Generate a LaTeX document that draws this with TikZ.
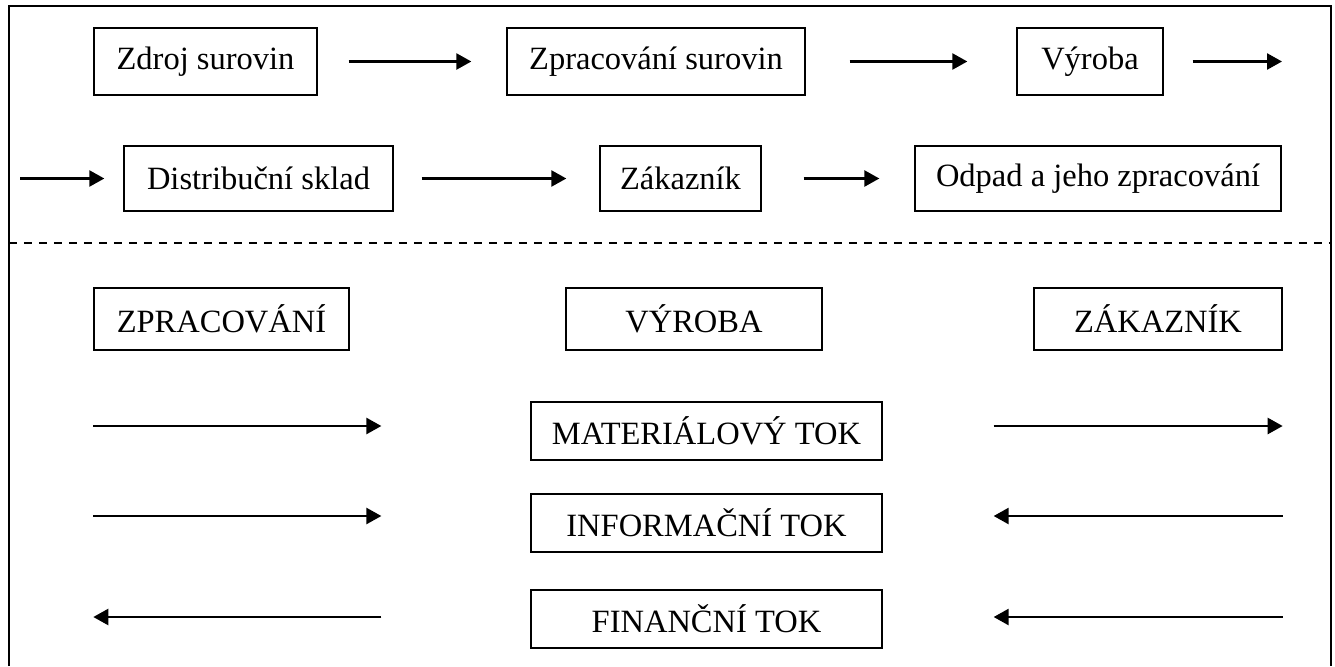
\documentclass[tikz,border=0pt]{standalone}
\usepackage{fontspec}
\setmainfont{Liberation Serif}
\usetikzlibrary{arrows.meta,positioning,calc}

\begin{document}
\begin{tikzpicture}[
  x=0.02cm, y=-0.02cm,
  box/.style = {draw, line width=0.8pt, inner sep=0pt, align=center, font=\fontsize{18.5pt}{22pt}\selectfont},
  chainbox/.style = {box, minimum height=1.34cm},
  chainboxlow/.style = {box, minimum height=1.3cm},
  actor/.style = {box, minimum height=1.24cm},
  flowbox/.style = {box, minimum width=7.02cm, minimum height=1.16cm},
  arrow/.style = {line width=1.4pt, -{Triangle[length=0.3cm, width=0.32cm]}}
  ]

% bounding box and frame
\useasboundingbox (0,0) rectangle (1335,666);
\draw[line width=1.2pt] (9,666) -- (9,6) -- (1331,6) -- (1331,666);

% 1st row: chain
\node[chainbox, minimum width=4.46cm] (zdroj) at (205.5,61.5) {Zdroj surovin};
\node[chainbox, minimum width=5.96cm] (zpracovani) at (656,61.5) {Zpracování surovin};
\node[chainbox, minimum width=2.92cm] (vyroba) at (1090,61.5) {Výroba};
\coordinate (out) at (1282,61);

% 2nd row: chain
\coordinate (in) at (20,181);
\node[chainboxlow, minimum width=5.38cm] (sklad) at (258.5,178.5) {Distribuční sklad};
\node[chainboxlow, minimum width=3.22cm] (zakaznik) at (680.5,178.5) {Zákazník};
\node[chainboxlow, minimum width=7.32cm] (odpad) at (1098,178.5) {Odpad a jeho zpracování};

% Draw arrows
\draw[arrow, shorten <=0.62cm, shorten >=0.7cm] (zdroj) -- (zpracovani);
\draw[arrow, shorten <=0.88cm, shorten >=0.98cm] (zpracovani) -- (vyroba);
\draw[arrow, shorten <=0.58cm] (vyroba.east) -- (vyroba.east -| out);
\draw[arrow, shorten >=0.38cm] (in |- sklad.west) -- (sklad.west);
\draw[arrow, shorten <=0.56cm, shorten >=0.66cm] (sklad) -- (zakaznik);
\draw[arrow, shorten <=0.84cm, shorten >=0.7cm] (zakaznik) -- (odpad);

% separator
\draw[line width=0.6pt, dash pattern=on 0.16cm off 0.14cm] (9,243) -- (1331,243);

% Bottom part: actors
\node[actor, minimum width=5.1cm] (zprac) at (221.5,319) {ZPRACOVÁNÍ};
\node[actor, minimum width=5.12cm] (vyr) at (694,319) {VÝROBA};
\node[actor, minimum width=4.96cm] (zak) at (1158,319) {ZÁKAZNÍK};

% Bottom part: flows
\node[flowbox] (mat) at (706.5,431) {MATERIÁLOVÝ TOK};
\node[flowbox] (inf) at (706.5,523) {INFORMAČNÍ TOK};
\node[flowbox] (fin) at (706.5,619) {FINANČNÍ TOK};

% left arrows
\draw[arrow] ([yshift=0.1cm]zprac.west |- mat.west) -- ([xshift=-2.98cm, yshift=0.1cm]mat.west);
\draw[arrow] ([yshift=0.14cm]zprac.west |- inf.west) -- ([xshift=-2.98cm, yshift=0.14cm]inf.west);
\draw[arrow] ([xshift=-2.98cm, yshift=0.04cm]fin.west) -- ([yshift=0.04cm]zprac.west |- fin.west);

% right arrows
\draw[arrow] ([xshift=2.22cm, yshift=0.1cm]mat.east) -- ([yshift=0.1cm]zak.east |- mat.east);
\draw[arrow] ([yshift=0.14cm]zak.east |- inf.east) -- ([xshift=2.22cm, yshift=0.14cm]inf.east);
\draw[arrow] ([yshift=0.04cm]zak.east |- fin.east) -- ([xshift=2.22cm, yshift=0.04cm]fin.east);
\end{tikzpicture}
\end{document}
